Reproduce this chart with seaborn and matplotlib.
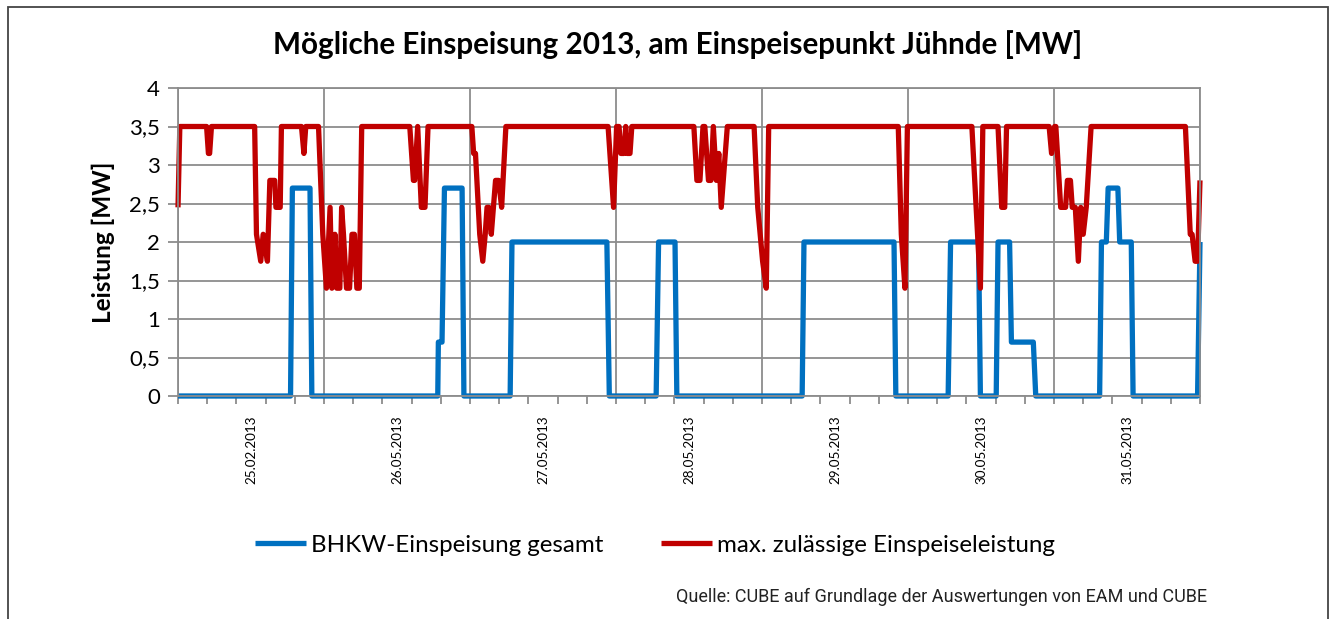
import matplotlib
matplotlib.use("Agg")
import matplotlib.pyplot as plt
import matplotlib.ticker as mticker
from matplotlib.patches import Rectangle
import seaborn as sns
import pandas as pd
import numpy as np

# ---- data (hours since start of first day, value in MW) ----
day_labels = ["25.02.2013", "26.05.2013", "27.05.2013", "28.05.2013",
              "29.05.2013", "30.05.2013", "31.05.2013"]

bhkw_t = [0, 18.5, 18.8, 21.7, 22.0, 42.7, 42.8, 43.4, 43.8, 46.7, 47.0,
          54.6, 54.9, 70.5, 70.9, 78.6, 79.0, 81.7, 82.0, 102.6, 102.9,
          117.7, 118.0, 126.6, 127.0, 131.6, 131.9, 134.5, 134.8, 136.7,
          137.0, 140.6, 141.0, 151.5, 151.8, 152.6, 152.9, 154.5, 154.8,
          156.7, 157.0, 167.6, 168.0]
bhkw_v = [0, 0, 2.7, 2.7, 0, 0, 0.7, 0.7, 2.7, 2.7, 0,
          0, 2.0, 2.0, 0, 0, 2.0, 2.0, 0, 0, 2.0,
          2.0, 0, 0, 2.0, 2.0, 0, 0, 2.0, 2.0,
          0.7, 0.7, 0, 0, 2.0, 2.0, 2.7, 2.7, 2.0,
          2.0, 0, 0, 2.0]

max_t = [0, 0.3, 4.7, 5.0, 5.2, 5.5, 12.6, 12.9, 13.6, 14.0, 14.7, 15.1,
         15.9, 16.1, 16.8, 17.0, 20.3, 20.7, 21.0, 23.1, 23.8, 24.4, 25.0,
         25.3, 25.8, 26.1, 26.6, 26.9, 27.2, 27.7, 28.2, 28.6, 29.0, 29.4,
         29.8, 30.2, 38.1, 38.7, 38.9, 39.4, 40.0, 40.6, 41.1, 48.3, 48.6,
         48.9, 49.6, 50.1, 50.5, 50.8, 51.1, 51.5, 52.2, 52.7, 53.2, 53.9,
         70.7, 71.6, 72.1, 72.5, 72.8, 73.3, 73.6, 73.8, 74.3, 74.6, 84.8,
         85.3, 85.8, 86.3, 86.6, 87.2, 87.6, 88.0, 88.5, 88.9, 89.3, 90.3,
         94.7, 95.1, 95.3, 96.1, 96.7, 97.1, 118.4, 118.9, 119.5, 119.9,
         130.5, 131.9, 132.3, 134.8, 135.4, 135.9, 136.2, 143.2, 143.6,
         144.1, 144.3, 145.1, 145.9, 146.2, 146.7, 147.0, 147.5, 148.0,
         148.4, 148.8, 149.3, 150.1, 165.6, 166.4, 166.7, 167.2, 167.6, 168.0]
max_v = [2.45, 3.5, 3.5, 3.15, 3.15, 3.5, 3.5, 2.1, 1.75, 2.1, 1.75, 2.8,
         2.8, 2.45, 2.45, 3.5, 3.5, 3.15, 3.5, 3.5, 2.1, 1.4, 2.45,
         1.4, 2.1, 1.4, 1.4, 2.45, 2.1, 1.4, 1.4, 2.1, 2.1, 1.4,
         1.4, 3.5, 3.5, 2.8, 2.8, 3.5, 2.45, 2.45, 3.5, 3.5, 3.15,
         3.15, 2.1, 1.75, 2.1, 2.45, 2.45, 2.1, 2.8, 2.8, 2.45, 3.5,
         3.5, 2.45, 3.5, 3.5, 3.15, 3.15, 3.5, 3.15, 3.15, 3.5, 3.5,
         2.8, 2.8, 3.5, 3.5, 2.8, 2.8, 3.5, 2.8, 3.15, 2.45, 3.5,
         3.5, 2.8, 2.45, 1.75, 1.4, 3.5, 3.5, 2.1, 1.4, 3.5,
         3.5, 1.4, 3.5, 3.5, 2.45, 2.45, 3.5, 3.5, 3.15,
         3.5, 3.5, 2.45, 2.45, 2.8, 2.8, 2.45, 2.45, 1.75,
         2.45, 2.1, 2.45, 3.5, 3.5, 2.1, 2.1, 1.75, 1.75, 2.8]

series_names = ["BHKW-Einspeisung gesamt", "max. zulässige Einspeiseleistung"]
colors = ["#0070C0", "#C00000"]

df = pd.concat([
    pd.DataFrame({"t": bhkw_t, "v": bhkw_v, "s": series_names[0]}),
    pd.DataFrame({"t": max_t, "v": max_v, "s": series_names[1]}),
], ignore_index=True)

sns.set_theme(style="white")
plt.rcParams["font.family"] = ["Lato", "DejaVu Sans"]
plt.rcParams["text.color"] = "black"
plt.rcParams["axes.labelcolor"] = "black"
plt.rcParams["xtick.color"] = "black"
plt.rcParams["ytick.color"] = "black"

fig = plt.figure(figsize=(13.34, 6.19), dpi=100)
ax = fig.add_axes([178/1334, 1 - 396/619, (1200-178)/1334, (396-88)/619])

sns.lineplot(data=df, x="t", y="v", hue="s", palette=colors, sort=False,
             estimator=None, linewidth=3.8, ax=ax, legend=True)
for ln in ax.lines:
    ln.set_clip_on(False)
    ln.set_solid_joinstyle("round")
    ln.set_solid_capstyle("butt")

grid_c = "#8c8c8c"
ax.set_xlim(0, 168)
ax.set_ylim(0, 4)
ax.yaxis.set_major_locator(mticker.MultipleLocator(0.5))
ax.yaxis.set_major_formatter(mticker.FuncFormatter(
    lambda v, p: f"{v:g}".replace(".", ",")))
ax.grid(axis="y", color=grid_c, linewidth=1.3)
ax.set_axisbelow(True)
for d in range(0, 8):
    ax.axvline(d * 24, color=grid_c, linewidth=1.3, zorder=0.5)

ax.set_xticks([12 + 24 * i for i in range(len(day_labels))])
ax.set_xticklabels(day_labels, rotation=90, fontsize=9.7)
ax.tick_params(axis="x", which="major", length=0, pad=14)
ax.set_xticks(np.arange(0, 168.01, 4.8), minor=True)
ax.tick_params(axis="x", which="minor", length=6, width=1.3, color=grid_c,
               direction="out", bottom=True)
ax.tick_params(axis="y", length=7, width=1.3, color=grid_c, direction="out",
               left=True, labelsize=16, pad=6)
for sp in ax.spines.values():
    sp.set_color(grid_c)
    sp.set_linewidth(1.3)

ax.set_xlabel("")
ax.set_ylabel("Leistung [MW]", fontsize=17.5, fontweight="bold", labelpad=10)

ax.get_legend().remove()
handles = ax.lines[:2]
fig.legend(handles, series_names, loc="center", bbox_to_anchor=(0.491, 1 - 545/619),
           ncol=2, frameon=False, fontsize=17.4, handlelength=2.1,
           handletextpad=0.22, columnspacing=2.4)

fig.text(0.508, 1 - 45/619, "Mögliche Einspeisung 2013, am Einspeisepunkt Jühnde [MW]",
         ha="center", va="center", fontsize=21.3, fontweight="bold")
fig.text(1207/1334, 1 - 597/619,
         "Quelle: CUBE auf Grundlage der Auswertungen von EAM und CUBE",
         ha="right", va="center", fontsize=13,
         family=["Liberation Sans Narrow", "Roboto", "DejaVu Sans"], color="#222222")

fig.patches.append(Rectangle((8/1334, -0.05), (1328-8)/1334, 1.05 - 7/619,
                             transform=fig.transFigure, fill=False,
                             edgecolor="#444444", linewidth=1.3))

fig.savefig("out.png", dpi=100)
